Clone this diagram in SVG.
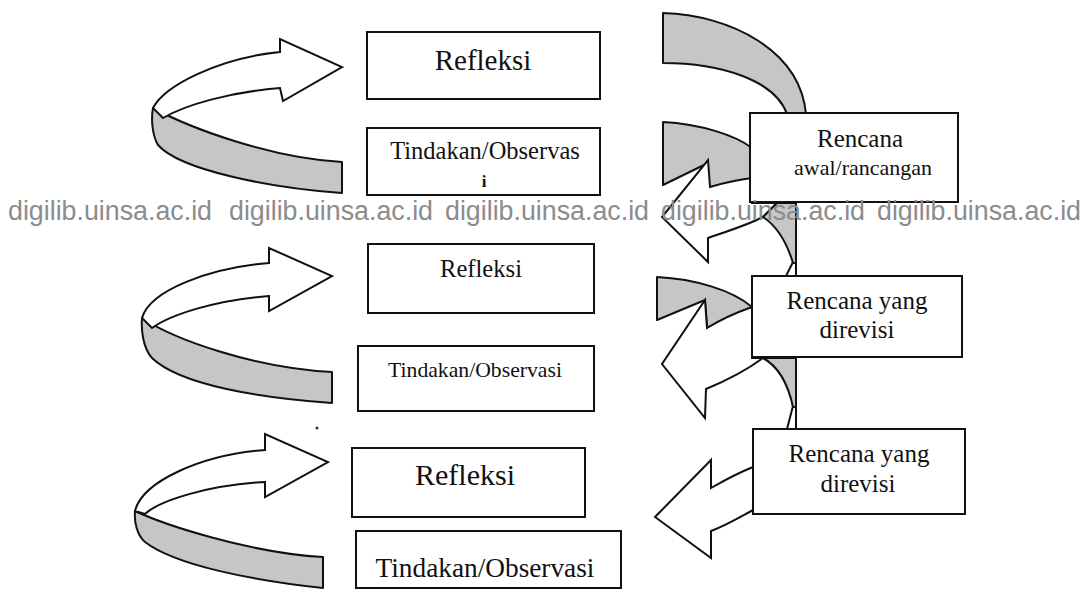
<svg xmlns="http://www.w3.org/2000/svg" width="1084" height="590" viewBox="0 0 1084 590">
<style>
.band{fill:#c6c6c6;stroke:#111;stroke-width:2;stroke-linejoin:round}
.arr{fill:#fff;stroke:#111;stroke-width:2;stroke-linejoin:miter}
.box{fill:#fff;stroke:#111;stroke-width:2}
.ln{fill:none;stroke:#111;stroke-width:2}
.t{font-family:"Liberation Serif","Times New Roman",serif;fill:#111;text-anchor:middle}
.wm{font-family:"Liberation Sans",Arial,sans-serif;font-size:27px;fill:#8c8c8c}
</style>
<rect width="1084" height="590" fill="#fff"/>
<g id="connectors">
  <g id="ribbon-top">
    <path class="band" d="M153,108 C190,128 270,158 342,162 L342,193 C270,188 180,170 158,145 C152,135 151,118 153,108 Z"/>
    <path class="arr" d="M153,108 C165,85 220,58 280,52 L280,39 L342,67 L283,101 L280,88 C230,92 185,105 163,118 Z"/>
  </g>
  <g id="ribbon-middle">
    <path class="band" d="M142,318 C175,340 255,368 332,372 L332,403 C260,398 180,385 152,358 C143,348 141,330 142,318 Z"/>
    <path class="arr" d="M142,318 C150,290 210,268 269,263 L269,248 L332,276 L269,311 L269,296 C215,300 170,315 152,328 Z"/>
  </g>
  <g id="ribbon-bottom">
    <path class="band" d="M135,511 C165,525 250,553 323,557 L323,588 C250,580 175,565 145,542 C137,535 134,522 135,511 Z"/>
    <path class="arr" d="M135,511 C142,482 200,455 265,450 L265,434 L328,462 L265,497 L265,482 C210,485 160,500 145,514 Z"/>
  </g>
  <g id="spiral-right">
    <path class="band" d="M663,13 C730,15 800,50 806,114 L787,114 C775,80 720,63 663,63 Z"/>
    <path class="band" d="M663,122 C700,124 735,135 752,148 L752,180 L708,190 L708,163 L663,185 Z"/>
    <path class="arr" d="M752,178 C735,180 720,184 710,187 L708,160 L662,217 L708,262 L708,238 C725,232 745,226 763,217 L777,203 L752,203 Z"/>
    <path class="band" d="M777,203 L796,203 L796,263 L793,263 Q783,230 763,217 Z"/>
    <path class="ln" d="M786,276 L793,262 M796,203 L796,276"/>
    <path class="band" d="M657,277 C695,279 732,290 752,307 L707,328 L705,300 L657,320 Z"/>
    <path class="arr" d="M752,307 C735,313 720,320 707,328 L705,300 L662,364 L705,418 L706,389 Q740,375 763,358 L752,358 Z"/>
    <path class="band" d="M763,358 L796,358 L796,407 L793,407 Q785,370 763,358 Z"/>
    <path class="ln" d="M787,429 L793,406 M796,358 L796,429"/>
    <path class="arr" d="M753,467 C738,473 725,480 711,488 L711,460 L655,517 L711,558 L711,531 C727,525 740,517 753,510 Z"/>
  </g>
</g>
<g id="refleksi-1"><rect class="box" x="367" y="32" width="233" height="67"/><text class="t" x="483" y="70" font-size="29">Refleksi</text></g>
<g id="tindakan-1"><rect class="box" x="367" y="128" width="233" height="67"/><text class="t" x="485" y="159" font-size="24.5">Tindakan/Observas</text><text class="t" x="484" y="187" font-size="17" font-weight="bold">i</text></g>
<g id="refleksi-2"><rect class="box" x="368" y="244" width="226" height="69"/><text class="t" x="481" y="277" font-size="24.6">Refleksi</text></g>
<g id="tindakan-2"><rect class="box" x="358" y="346" width="236" height="65"/><text class="t" x="475" y="377" font-size="21.7">Tindakan/Observasi</text></g>
<g id="refleksi-3"><rect class="box" x="352" y="448" width="233" height="69"/><text class="t" x="465" y="485" font-size="30">Refleksi</text></g>
<g id="tindakan-3"><rect class="box" x="356" y="531" width="265" height="57"/><text class="t" x="485" y="577" font-size="27.3">Tindakan/Observasi</text></g>
<g id="rencana-awal"><rect class="box" x="750" y="113" width="208" height="89"/><text class="t" x="860" y="147" font-size="25">Rencana</text><text class="t" x="863" y="175" font-size="22">awal/rancangan</text></g>
<g id="rencana-revisi-1"><rect class="box" x="752" y="276" width="210" height="81"/><text class="t" x="857" y="309" font-size="25">Rencana yang</text><text class="t" x="857" y="338" font-size="25">direvisi</text></g>
<g id="rencana-revisi-2"><rect class="box" x="753" y="429" width="212" height="85"/><text class="t" x="859" y="462" font-size="25">Rencana yang</text><text class="t" x="858" y="492" font-size="25">direvisi</text></g>
<circle cx="317" cy="428" r="1.5" fill="#333"/>
<g id="watermark">
  <text class="wm" x="8" y="220" textLength="204" lengthAdjust="spacingAndGlyphs">digilib.uinsa.ac.id</text>
  <text class="wm" x="229" y="220" textLength="204" lengthAdjust="spacingAndGlyphs">digilib.uinsa.ac.id</text>
  <text class="wm" x="445" y="220" textLength="204" lengthAdjust="spacingAndGlyphs">digilib.uinsa.ac.id</text>
  <text class="wm" x="661" y="220" textLength="204" lengthAdjust="spacingAndGlyphs">digilib.uinsa.ac.id</text>
  <text class="wm" x="877" y="220" textLength="204" lengthAdjust="spacingAndGlyphs">digilib.uinsa.ac.id</text>
</g>
</svg>
